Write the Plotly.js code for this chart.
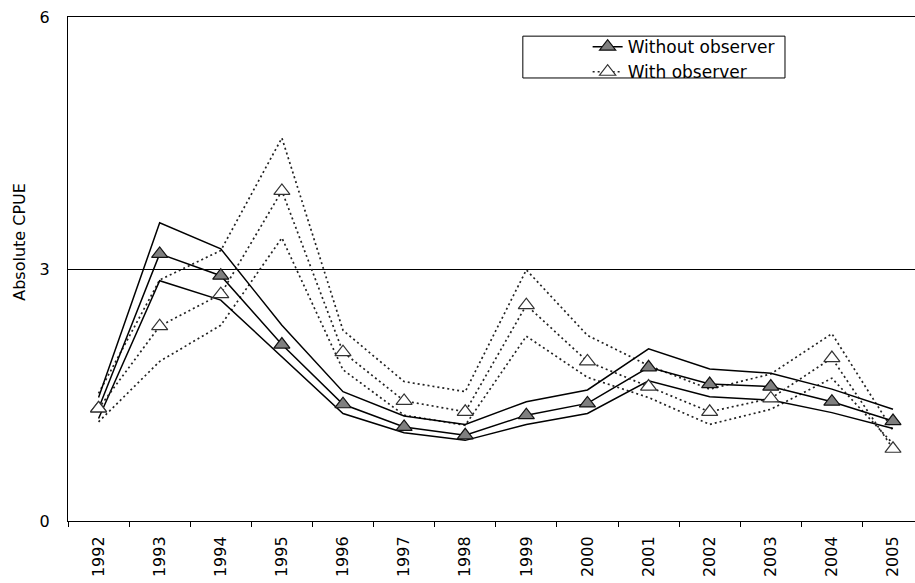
<!DOCTYPE html>
<html>
<head>
<meta charset="utf-8">
<script src="https://cdn.plot.ly/plotly-3.0.1.min.js"></script>
<style>
  html, body { margin: 0; padding: 0; background: #fff; overflow: hidden; }
  #chart { width: 915px; height: 583px; }
</style>
</head>
<body>
<div id="chart"></div>
<script>
const years = ["1992","1993","1994","1995","1996","1997","1998","1999","2000","2001","2002","2003","2004","2005"];

const withoutMean  = [1.34, 3.18, 2.92, 2.10, 1.39, 1.12, 1.02, 1.26, 1.40, 1.83, 1.63, 1.60, 1.42, 1.19];
const withoutUpper = [1.47, 3.55, 3.24, 2.33, 1.54, 1.25, 1.15, 1.42, 1.56, 2.05, 1.81, 1.76, 1.57, 1.33];
const withoutLower = [1.22, 2.86, 2.63, 1.95, 1.28, 1.05, 0.96, 1.15, 1.28, 1.67, 1.48, 1.44, 1.29, 1.10];

const withMean  = [1.34, 2.32, 2.70, 3.93, 2.01, 1.43, 1.30, 2.57, 1.90, 1.60, 1.30, 1.46, 1.94, 0.86];
const withUpper = [1.52, 2.87, 3.22, 4.56, 2.27, 1.66, 1.54, 2.99, 2.21, 1.85, 1.57, 1.75, 2.23, 1.08];
const withLower = [1.18, 1.90, 2.33, 3.37, 1.80, 1.26, 1.14, 2.20, 1.71, 1.47, 1.15, 1.33, 1.70, 0.92];

const yTicks = [0, 3, 6];
const yMax = 6;

const FONT = "DejaVu Sans, Liberation Sans, Arial, sans-serif";
const solidLine = {color: "#000", width: 1.5};
const dotLine = {color: "#222", width: 1.7, dash: "2px,3px"};

const traces = [
  {x: years, y: withUpper, mode: "lines", line: dotLine, showlegend: false, hoverinfo: "skip"},
  {x: years, y: withLower, mode: "lines", line: dotLine, showlegend: false, hoverinfo: "skip"},
  {x: years, y: withoutUpper, mode: "lines", line: solidLine, showlegend: false, hoverinfo: "skip"},
  {x: years, y: withoutLower, mode: "lines", line: solidLine, showlegend: false, hoverinfo: "skip"},
  {x: years, y: withoutMean, name: "Without observer", mode: "lines+markers",
   line: solidLine,
   marker: {symbol: "triangle-up", size: 14, color: "#7f7f7f", line: {color: "#111", width: 1.2}}},
  {x: years, y: withMean, name: "With observer", mode: "lines+markers",
   line: dotLine,
   marker: {symbol: "triangle-up", size: 14, color: "#fff", line: {color: "#333", width: 1.2}}}
];

const layout = {
  width: 915, height: 583,
  margin: {l: 68, r: 0, t: 17, b: 62},
  paper_bgcolor: "#fff", plot_bgcolor: "#fff",
  font: {family: FONT, size: 16, color: "#000"},
  showlegend: true,
  legend: {
    x: 0.6135, y: 0.976, xanchor: "left", yanchor: "top",
    bgcolor: "rgba(0,0,0,0)", borderwidth: 0,
    font: {family: FONT, size: 17, color: "#000"},
    tracegroupgap: 0
  },
  xaxis: {
    type: "category",
    range: [-0.5, 13.36],
    showline: true, linecolor: "#000", linewidth: 1,
    mirror: true,
    ticks: "outside", tickson: "boundaries", ticklen: 5, tickcolor: "#000",
    tickangle: -90,
    tickfont: {family: FONT, size: 16, color: "#000"},
    ticklabelstandoff: 8,
    showgrid: false, zeroline: false
  },
  yaxis: {
    range: [0, yMax],
    tickvals: yTicks,
    ticktext: yTicks.map(String),
    showline: true, linecolor: "#000", linewidth: 1,
    ticks: "",
    showgrid: true, gridcolor: "#000", gridwidth: 1,
    zeroline: false,
    tickfont: {family: FONT, size: 16, color: "#000"},
    ticklabelstandoff: 14
  },
  shapes: [
    {type: "rect", xref: "paper", yref: "paper",
     x0: 0.537, x1: 0.8465, y0: 0.879, y1: 0.962,
     line: {color: "#000", width: 1}, fillcolor: "rgba(0,0,0,0)"}
  ],
  annotations: [
    {text: "Absolute CPUE", xref: "paper", yref: "paper",
     x: -0.0567, y: 0.554, xanchor: "center", yanchor: "middle",
     textangle: -90, showarrow: false,
     font: {family: FONT, size: 16, color: "#000"}}
  ]
};

Plotly.newPlot("chart", traces, layout, {displayModeBar: false, staticPlot: true});
</script>
</body>
</html>
